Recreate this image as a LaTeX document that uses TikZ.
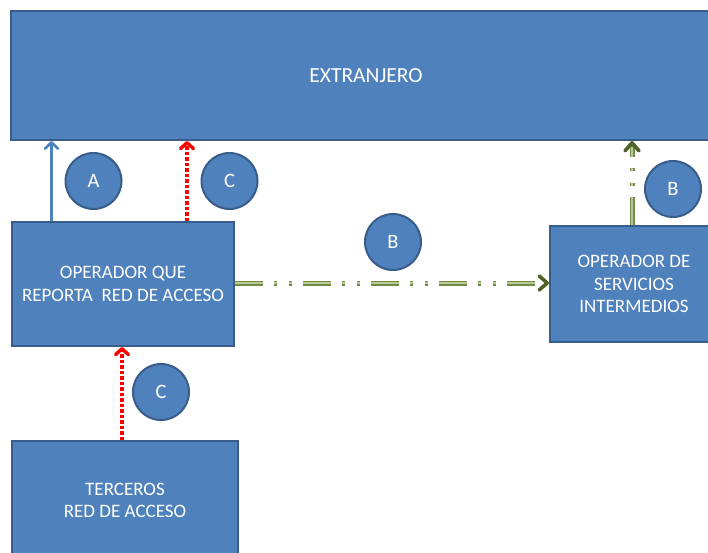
\documentclass[tikz,border=0pt]{standalone}
\usepackage{fontspec}
\setmainfont{Carlito}
\usetikzlibrary{arrows.meta}
\definecolor{boxfill}{HTML}{4F81BD}
\definecolor{boxline}{HTML}{385D8A}
\definecolor{gdark}{HTML}{748B48}
\definecolor{glight}{HTML}{B9CA95}
\definecolor{ghead}{HTML}{4F6228}
\definecolor{redline}{HTML}{FF0000}
\tikzset{
  box/.style={draw=boxline, fill=boxfill, line width=2pt, text=white, align=center,
    font=\fontsize{19}{23.5}\selectfont, anchor=north west, inner sep=0pt},
  badge/.style={circle, draw=boxline, fill=boxfill, line width=2pt, text=white,
    minimum size=56pt, inner sep=0pt, font=\fontsize{20.5}{24}\selectfont},
  bluearrow/.style={draw=boxfill, line width=2.6pt,
    -{Straight Barb[length=6.5pt,width=13pt,line width=2.6pt,round]}},
  redarrow/.style={draw=redline, line width=3.4pt, dash pattern=on 3.2pt off 2.3pt,
    -{Straight Barb[length=6pt,width=13pt,line width=3.4pt,round]}},
  gpat/.style={dash pattern=on 28pt off 11pt on 3pt off 12pt on 3pt off 11pt},
  greenouter/.style={draw=gdark, line width=5pt, gpat,
    -{Straight Barb[length=8pt,width=14pt,line width=3.6pt,round,color=ghead]}},
  greeninner/.style={draw=glight, line width=1.2pt, gpat, shorten >=6pt},
}
\begin{document}
\begin{tikzpicture}[x=1pt,y=-1pt]
\useasboundingbox (0,0) rectangle (708,552);
\begin{scope}
\clip (0,0) rectangle (708,552);
\node[box, minimum width=710pt, minimum height=129.5pt, font=\fontsize{21.5}{25}\selectfont] (ext) at (10,9.5) {EXTRANJERO};
\node[box, minimum width=222pt, minimum height=124pt] (rep) at (11,221) {OPERADOR QUE\\REPORTA\ \ RED DE ACCESO};
\node[box, minimum width=168pt, minimum height=116pt, font=\fontsize{19}{22.5}\selectfont] (int) at (549,225) {OPERADOR DE\\SERVICIOS\\INTERMEDIOS};
\node[box, minimum width=226pt, minimum height=118pt, font=\fontsize{19}{22}\selectfont] (ter) at (11,440) {TERCEROS\\RED DE ACCESO};

\node[badge] (cA) at (93.5,181) {A};
\node[badge] (cC1) at (229.5,181) {C};
\node[badge] (cB1) at (393,242) {B};
\node[badge] (cB2) at (673,189) {B};
\node[badge] (cC2) at (161,392) {C};

\coordinate (xA) at (51.5,0);
\coordinate (xC) at (187,0);
\coordinate (xB) at (632,0);
\coordinate (xT) at (122,0);
\coordinate (yB) at (0,283);

\draw[bluearrow] (rep.north west -| xA) -- (ext.south west -| xA);
\draw[redarrow] (rep.north west -| xC) -- (ext.south west -| xC);
\draw[redarrow] (ter.north west -| xT) -- (rep.south west -| xT);
\draw[greenouter] (rep.east |- yB) -- (int.west |- yB);
\draw[greeninner] (rep.east |- yB) -- (int.west |- yB);
\draw[greenouter] (int.north west -| xB) -- (ext.south west -| xB);
\draw[greeninner] (int.north west -| xB) -- (ext.south west -| xB);
\end{scope}
\end{tikzpicture}
\end{document}
